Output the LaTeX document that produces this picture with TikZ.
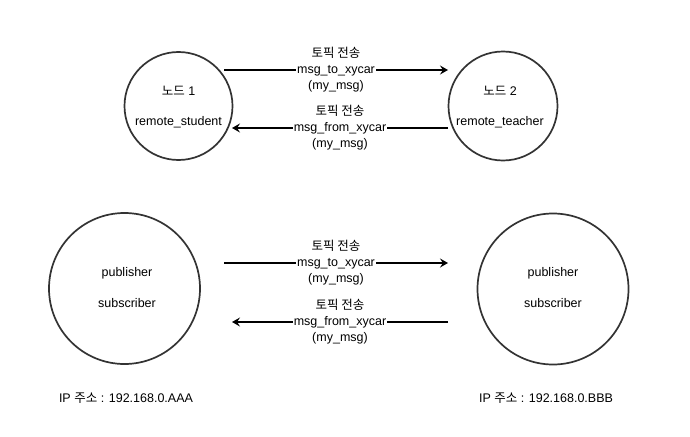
\documentclass[tikz,border=0pt]{standalone}
\usepackage{fontspec}
\setmainfont{Liberation Sans}
\newfontfamily\kr{Noto Sans CJK KR}
\usetikzlibrary{arrows.meta}
\newcommand{\K}[1]{{\kr #1}}
\tikzset{
  nodecirc/.style={draw=black!80, line width=1.7pt, circle, inner sep=0pt},
  txt/.style={font=\fontsize{12.5}{15}\selectfont, inner sep=0pt},
  conn/.style={line width=1.8pt, -{Stealth[length=8pt,width=9pt,inset=3pt]}},
  elabel/.style={font=\fontsize{12.5}{16}\selectfont, align=center, fill=white, inner xsep=1pt, inner ysep=0pt}
}
\begin{document}
\begin{tikzpicture}[x=1pt,y=-1pt]
\useasboundingbox[fill=white] (0,0) rectangle (690,436);
% top circles
\node[nodecirc, minimum size=108pt] (n1) at (178.5,106) {};
\node[nodecirc, minimum size=109pt] (n2) at (503,106) {};
\node[txt] (n1a) at (178.5,91) {\K{노드} 1};
\node[txt] (n1b) at (178.5,122) {remote\_student};
\node[txt] (n2a) at (500,91) {\K{노드} 2};
\node[txt] (n2b) at (500,122) {remote\_teacher};
% top connectors
\coordinate (a1s) at (224,70); \coordinate (a1e) at (448,70);
\coordinate (a2s) at (448,128); \coordinate (a2e) at (232,128);
\draw[conn] (a1s) -- (a1e);
\draw[conn] (a2s) -- (a2e);
\node[elabel] (l1) at (336,70) {\K{토픽 전송}\\msg\_to\_xycar\\(my\_msg)};
\node[elabel] (l2) at (340,128) {\K{토픽 전송}\\msg\_from\_xycar\\(my\_msg)};
% bottom circles
\node[nodecirc, minimum size=151pt] (m1) at (124.5,288.5) {};
\node[nodecirc, minimum size=151pt] (m2) at (553,289) {};
\node[txt] (m1a) at (127,273) {publisher};
\node[txt] (m1b) at (127,303) {subscriber};
\node[txt] (m2a) at (553,273) {publisher};
\node[txt] (m2b) at (553,303) {subscriber};
% bottom connectors
\coordinate (b1s) at (224,263); \coordinate (b1e) at (448,263);
\coordinate (b2s) at (448,322); \coordinate (b2e) at (232,322);
\draw[conn] (b1s) -- (b1e);
\draw[conn] (b2s) -- (b2e);
\node[elabel] (l3) at (336,263) {\K{토픽 전송}\\msg\_to\_xycar\\(my\_msg)};
\node[elabel] (l4) at (340,322) {\K{토픽 전송}\\msg\_from\_xycar\\(my\_msg)};
% IP labels
\node[txt] (ip1) at (126,398) {IP \K{주소} : 192.168.0.AAA};
\node[txt] (ip2) at (546,398) {IP \K{주소} : 192.168.0.BBB};
\end{tikzpicture}
\end{document}
